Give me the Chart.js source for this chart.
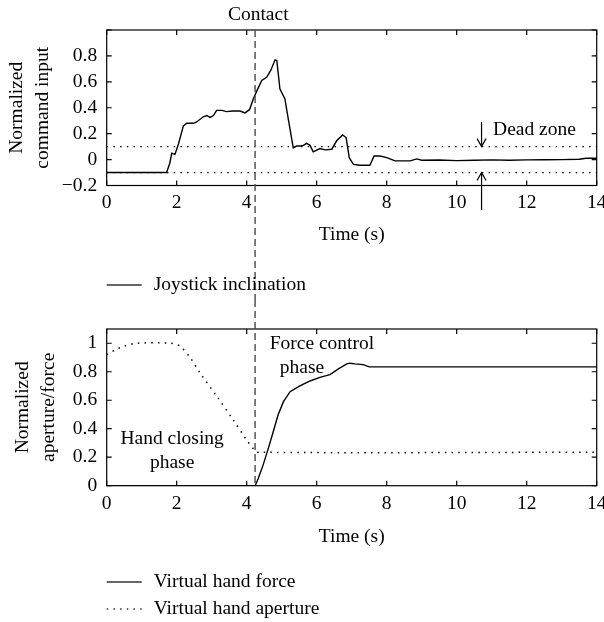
<!DOCTYPE html>
<html>
<head>
<meta charset="utf-8">
<script src="https://cdn.jsdelivr.net/npm/chart.js@4.4.1/dist/chart.umd.min.js"></script>
<style>
  html, body { margin: 0; padding: 0; background: #fff; }
  #wrap { position: relative; width: 604px; height: 622px; }
  canvas { position: absolute; left: 0; }
  #topChart { top: 0; }
  #botChart { top: 300px; }
</style>
</head>
<body>
<div id="wrap">
  <canvas id="topChart" width="604" height="300"></canvas>
  <canvas id="botChart" width="604" height="322"></canvas>
</div>
<script>
// ---- data ----
const X_TICKS = [0, 2, 4, 6, 8, 10, 12, 14];
const Y_TICKS_TOP = [-0.2, 0, 0.2, 0.4, 0.6, 0.8, 1.0];
const Y_TICKS_BOT = [0, 0.2, 0.4, 0.6, 0.8, 1.0];

const CONTACT_T = 4.24;
const DEAD_ZONE = 0.1;

// joystick inclination (top)
const joyT = [0, 1.71, 1.80, 1.86, 1.95, 2.05, 2.19, 2.29, 2.48, 2.57, 2.76, 2.86, 2.95, 3.05, 3.14,
  3.29, 3.43, 3.60, 3.81, 3.95, 4.08, 4.19, 4.29, 4.43, 4.57, 4.69, 4.81, 4.86, 4.95, 5.09, 5.19,
  5.33, 5.43, 5.52, 5.62, 5.71, 5.81, 5.90, 6.09, 6.24, 6.43, 6.57, 6.74, 6.84, 6.93, 7.05, 7.24,
  7.52, 7.64, 7.81, 8.00, 8.24, 8.67, 8.86, 9.00, 9.50, 10.0, 10.5, 11.0, 11.5, 12.0, 12.5, 13.0,
  13.5, 13.7, 14.0];
const joyV = [-0.10, -0.10, -0.03, 0.05, 0.04, 0.12, 0.26, 0.28, 0.28, 0.29, 0.33, 0.34, 0.325, 0.34, 0.38,
  0.38, 0.37, 0.375, 0.375, 0.36, 0.385, 0.47, 0.53, 0.61, 0.635, 0.69, 0.77, 0.765, 0.545, 0.47, 0.31,
  0.09, 0.105, 0.105, 0.11, 0.125, 0.11, 0.06, 0.085, 0.075, 0.08, 0.145, 0.19, 0.17, 0.015, -0.037, -0.044,
  -0.044, 0.028, 0.028, 0.015, -0.01, -0.01, 0.005, -0.005, -0.003, -0.008, -0.005, -0.002, -0.005, -0.002, -0.001, 0.0,
  0.003, 0.01, 0.01];

// virtual hand force / aperture (bottom)
const forceT = [0, 4.24, 4.33, 4.47, 4.62, 4.76, 4.90, 5.05, 5.24, 5.52, 5.81, 6.09, 6.38, 6.62, 6.86,
  6.95, 7.09, 7.33, 7.50, 14.0];
const forceV = [0, 0, 0.05, 0.146, 0.264, 0.38, 0.50, 0.59, 0.66, 0.70, 0.735, 0.76, 0.78, 0.82, 0.855,
  0.86, 0.855, 0.85, 0.834, 0.834];

const apertT = [0, 0.30, 0.50, 0.86, 1.81, 2.09, 2.38, 2.67, 3.14, 3.62, 4.00, 4.19, 4.30, 14.0];
const apertV = [0.92, 0.96, 0.98, 1.0, 1.0, 0.98, 0.90, 0.79, 0.63, 0.46, 0.32, 0.26, 0.235, 0.235];

// ---- styling ----
const FAMILY = '"Liberation Serif", "Times New Roman", serif';
const FONT = { family: FAMILY, size: 19.5, lineHeight: 1.2 };
const FONT_CSS = '19.5px ' + FAMILY;
const DOTS = [1.5, 5.2];

const pts = (ts, vs) => ts.map((t, i) => ({ x: t, y: vs[i] }));
const fmt = v => {
  const s = String(Number(v.toFixed(1)));
  return v < 0 ? '\u2212' + s.slice(1) : s;
};

// box with inward ticks on all four sides
const boxTicks = {
  id: 'boxTicks',
  afterDatasetsDraw(chart) {
    const { ctx, chartArea: a, scales: { x, y } } = chart;
    ctx.save();
    ctx.strokeStyle = '#000';
    ctx.lineWidth = 1.2;
    ctx.strokeRect(a.left, a.top, a.width, a.height);
    ctx.beginPath();
    x.ticks.forEach(t => {
      const px = x.getPixelForValue(t.value);
      ctx.moveTo(px, a.bottom); ctx.lineTo(px, a.bottom - 5);
      ctx.moveTo(px, a.top); ctx.lineTo(px, a.top + 5);
    });
    y.ticks.forEach(t => {
      const py = y.getPixelForValue(t.value);
      ctx.moveTo(a.left, py); ctx.lineTo(a.left + 5, py);
      ctx.moveTo(a.right, py); ctx.lineTo(a.right - 5, py);
    });
    ctx.stroke();
    ctx.restore();
  }
};

// contact line, text notes, arrows
const annotate = {
  id: 'annotate',
  afterDatasetsDraw(chart, args, o) {
    const { ctx, chartArea: a, scales: { x, y } } = chart;
    ctx.save();
    const cx = x.getPixelForValue(CONTACT_T);
    ctx.strokeStyle = '#555';
    ctx.lineWidth = 1.5;
    ctx.setLineDash([7, 4]);
    ctx.beginPath();
    ctx.moveTo(cx, o.fromCanvasTop ? 0 : a.top);
    ctx.lineTo(cx, o.toCanvasBottom ? chart.height : a.bottom);
    ctx.stroke();
    ctx.setLineDash([]);

    ctx.fillStyle = '#000';
    ctx.font = FONT_CSS;
    ctx.textBaseline = 'middle';
    (o.texts || []).forEach(tx => {
      ctx.textAlign = tx.align || 'center';
      ctx.fillText(tx.text, x.getPixelForValue(tx.t), y.getPixelForValue(tx.v));
    });

    ctx.strokeStyle = '#000';
    ctx.lineWidth = 1.2;
    (o.arrows || []).forEach(ar => {
      const px = x.getPixelForValue(ar.t);
      const y0 = y.getPixelForValue(ar.from);
      const y1 = y.getPixelForValue(ar.to);
      const dir = Math.sign(y1 - y0);
      ctx.beginPath();
      ctx.moveTo(px, y0); ctx.lineTo(px, y1);
      ctx.moveTo(px - 4.5, y1 - dir * 8); ctx.lineTo(px, y1); ctx.lineTo(px + 4.5, y1 - dir * 8);
      ctx.stroke();
    });
    ctx.restore();
  }
};

// one legend row per labelled dataset, stacked in a column
const lineLegend = {
  id: 'lineLegend',
  afterDraw(chart, args, o) {
    const { ctx, chartArea: a } = chart;
    ctx.save();
    ctx.font = FONT_CSS;
    ctx.textBaseline = 'middle';
    ctx.textAlign = 'left';
    chart.data.datasets.filter(d => d.label).forEach((d, i) => {
      const cy = o.top + i * o.rowGap;
      ctx.strokeStyle = '#333';
      ctx.lineWidth = 1.5;
      ctx.setLineDash(d.borderDash || []);
      ctx.beginPath();
      ctx.moveTo(a.left, cy); ctx.lineTo(a.left + 35, cy);
      ctx.stroke();
      ctx.setLineDash([]);
      ctx.fillStyle = '#000';
      ctx.fillText(d.label, a.left + 47, cy);
    });
    ctx.restore();
  }
};

function xScale(height, titlePad) {
  return {
    type: 'linear', min: 0, max: 14,
    afterBuildTicks: s => { s.ticks = X_TICKS.map(v => ({ value: v })); },
    grid: { display: false, drawTicks: false },
    border: { display: false },
    ticks: { padding: 6, color: '#000', font: FONT, maxRotation: 0, autoSkip: false },
    title: { display: true, text: 'Time (s)', color: '#000', font: FONT, padding: { top: 0, bottom: titlePad } },
    afterFit: s => { s.height = height; s.paddingLeft = 0; s.paddingRight = 0; }
  };
}

function yScale(min, max, ticks, title, titlePad, hideTop) {
  return {
    type: 'linear', min: min, max: max,
    afterBuildTicks: s => { s.ticks = ticks.map(v => ({ value: v })); },
    grid: { display: false, drawTicks: false },
    border: { display: false },
    ticks: {
      padding: 9.5, color: '#000', font: FONT, autoSkip: false,
      callback: v => (hideTop && v === max ? '' : fmt(v))
    },
    title: { display: true, text: title, color: '#000', font: { family: FAMILY, size: 19.5, lineHeight: 26 / 19.5 }, padding: { top: titlePad, bottom: 0 } },
    afterFit: s => { s.width = 106.7; }
  };
}

new Chart(document.getElementById('topChart'), {
  type: 'line',
  data: {
    datasets: [
      { label: 'Joystick inclination', data: pts(joyT, joyV), borderColor: '#000', borderWidth: 1.4, pointRadius: 0, tension: 0 },
      { data: pts([0, 14], [DEAD_ZONE, DEAD_ZONE]), borderColor: '#000', borderWidth: 1.3, borderDash: DOTS, pointRadius: 0 },
      { data: pts([0, 14], [-DEAD_ZONE, -DEAD_ZONE]), borderColor: '#000', borderWidth: 1.3, borderDash: DOTS, pointRadius: 0 }
    ]
  },
  options: {
    responsive: false, animation: false,
    layout: { padding: { left: 0, top: 30, right: 7.3, bottom: 52.5 } },
    plugins: {
      legend: { display: false }, tooltip: { enabled: false },
      annotate: {
        fromCanvasTop: false, toCanvasBottom: true,
        texts: [
          { text: 'Contact', t: 4.33, v: 1.12 },
          { text: 'Dead zone', t: 11.04, v: 0.233, align: 'left' }
        ],
        arrows: [
          { t: 10.71, from: 0.29, to: DEAD_ZONE },
          { t: 10.71, from: -0.39, to: -DEAD_ZONE }
        ]
      },
      lineLegend: { top: 285, rowGap: 26 }
    },
    scales: {
      x: xScale(62, 0.8),
      y: yScale(-0.2, 1.0, Y_TICKS_TOP, ['Normalized', 'command input'], 4, true)
    }
  },
  plugins: [boxTicks, annotate, lineLegend]
});

new Chart(document.getElementById('botChart'), {
  type: 'line',
  data: {
    datasets: [
      { label: 'Virtual hand force', data: pts(forceT, forceV), borderColor: '#000', borderWidth: 1.4, pointRadius: 0, tension: 0 },
      { label: 'Virtual hand aperture', data: pts(apertT, apertV), borderColor: '#000', borderWidth: 1.5, borderDash: DOTS, pointRadius: 0, tension: 0.3 }
    ]
  },
  options: {
    responsive: false, animation: false,
    layout: { padding: { left: 0, top: 29, right: 7.3, bottom: 72.3 } },
    plugins: {
      legend: { display: false }, tooltip: { enabled: false },
      annotate: {
        fromCanvasTop: true, toCanvasBottom: false,
        texts: [
          { text: 'Hand closing', t: 1.87, v: 0.33 },
          { text: 'phase', t: 1.87, v: 0.16 },
          { text: 'Force control', t: 6.15, v: 0.994 },
          { text: 'phase', t: 5.58, v: 0.83 }
        ]
      },
      lineLegend: { top: 282, rowGap: 27 }
    },
    scales: {
      x: xScale(64, 1),
      y: yScale(0, 1.1, Y_TICKS_BOT, ['Normalized', 'aperture/force'], 10, false)
    }
  },
  plugins: [boxTicks, annotate, lineLegend]
});
</script>
</body>
</html>
